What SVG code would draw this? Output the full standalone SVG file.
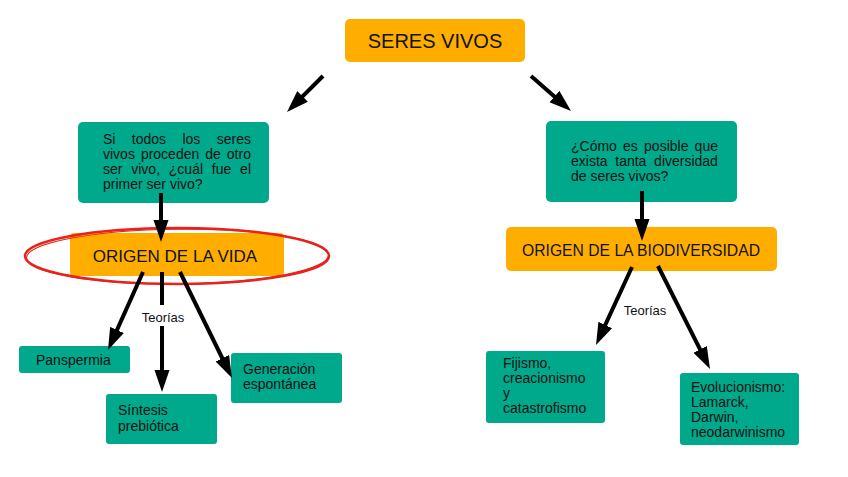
<svg xmlns="http://www.w3.org/2000/svg" width="848" height="477" viewBox="0 0 848 477">
<style>
.g{fill:#00A98B}
.o{fill:#FFAE00}
text{font-family:"Liberation Sans",Arial,sans-serif;fill:#111}
.t14{font-size:14px}
.lbl{font-size:13px}
.c{stroke:#000;stroke-width:4;fill:none;marker-end:url(#ah)}
</style>
<defs>
<marker id="ah" markerUnits="userSpaceOnUse" markerWidth="24" markerHeight="16" refX="12" refY="7.5" orient="auto" viewBox="0 0 24 16">
<path d="M0,0 L22,7.5 L0,15 z" fill="#000"/>
</marker>
</defs>
<rect width="848" height="477" fill="#fff"/>
<g id="seres-vivos">
<rect class="o" x="345" y="19" width="180" height="43" rx="5"/>
<text x="435" y="48" font-size="20" text-anchor="middle">SERES VIVOS</text>
</g>
<g id="pregunta-vida">
<rect class="g" x="78" y="122" width="191" height="81" rx="5"/>
<text class="t14" x="103" y="144" word-spacing="12.5">Si todos los seres</text>
<text class="t14" x="103" y="159" word-spacing="2.1">vivos proceden de otro</text>
<text class="t14" x="103" y="174" word-spacing="4.9">ser vivo, ¿cuál fue el</text>
<text class="t14" x="103" y="189">primer ser vivo?</text>
</g>
<g id="origen-vida">
<rect class="o" x="70" y="233" width="214" height="43" rx="4"/>
<text x="175" y="262" font-size="17" text-anchor="middle">ORIGEN DE LA VIDA</text>
<ellipse cx="177" cy="256" rx="152" ry="28" fill="none" stroke="#E8231B" stroke-width="2.5"/>
<ellipse cx="177.5" cy="256.5" rx="151" ry="27.3" fill="none" stroke="#E8231B" stroke-width="1" transform="rotate(-0.6 177 256)"/>
</g>
<g id="panspermia">
<rect class="g" x="19" y="346" width="111" height="27" rx="3"/>
<text class="t14" x="36" y="365">Panspermia</text>
</g>
<g id="sintesis">
<rect class="g" x="106" y="394" width="111" height="50" rx="3"/>
<text class="t14" x="118" y="415">Síntesis</text>
<text class="t14" x="118" y="431">prebiótica</text>
</g>
<g id="generacion">
<rect class="g" x="231" y="353" width="111" height="50" rx="3"/>
<text class="t14" x="243" y="374">Generación</text>
<text class="t14" x="243" y="389">espontánea</text>
</g>
<g id="pregunta-biodiversidad">
<rect class="g" x="546" y="121" width="191" height="81" rx="5"/>
<text class="t14" x="571" y="151" word-spacing="2.3">¿Cómo es posible que</text>
<text class="t14" x="571" y="166" word-spacing="3.8">exista tanta diversidad</text>
<text class="t14" x="571" y="181">de seres vivos?</text>
</g>
<g id="origen-biodiversidad">
<rect class="o" x="506" y="227" width="271" height="44" rx="5"/>
<text x="641" y="256" font-size="15.7" text-anchor="middle">ORIGEN DE LA BIODIVERSIDAD</text>
</g>
<g id="fijismo">
<rect class="g" x="486" y="351" width="119" height="72" rx="3"/>
<text class="t14" x="503" y="368">Fijismo,</text>
<text class="t14" x="503" y="383">creacionismo</text>
<text class="t14" x="503" y="398">y</text>
<text class="t14" x="503" y="413">catastrofismo</text>
</g>
<g id="evolucionismo">
<rect class="g" x="680" y="373" width="119" height="72" rx="3"/>
<text class="t14" x="691" y="392">Evolucionismo:</text>
<text class="t14" x="691" y="407">Lamarck,</text>
<text class="t14" x="691" y="422">Darwin,</text>
<text class="t14" x="691" y="437">neodarwinismo</text>
</g>
<g id="connectors">
<line class="c" x1="323" y1="76" x2="294.1" y2="104.9"/>
<line class="c" x1="531" y1="76" x2="563.5" y2="104.4"/>
<line class="c" x1="161" y1="193" x2="161" y2="232"/>
<line class="c" x1="642" y1="191" x2="642" y2="231"/>
<line class="c" x1="143" y1="272" x2="112.1" y2="340.9"/>
<line x1="162" y1="272" x2="162" y2="305" stroke="#000" stroke-width="4"/>
<line class="c" x1="162" y1="326" x2="162" y2="382"/>
<line class="c" x1="180" y1="272" x2="227.6" y2="369"/>
<line class="c" x1="632" y1="267" x2="600.2" y2="335.9"/>
<line class="c" x1="658" y1="266" x2="705.5" y2="360.1"/>
<text class="lbl" x="163" y="322" text-anchor="middle">Teorías</text>
<text class="lbl" x="645" y="315" text-anchor="middle">Teorías</text>
</g>
</svg>
